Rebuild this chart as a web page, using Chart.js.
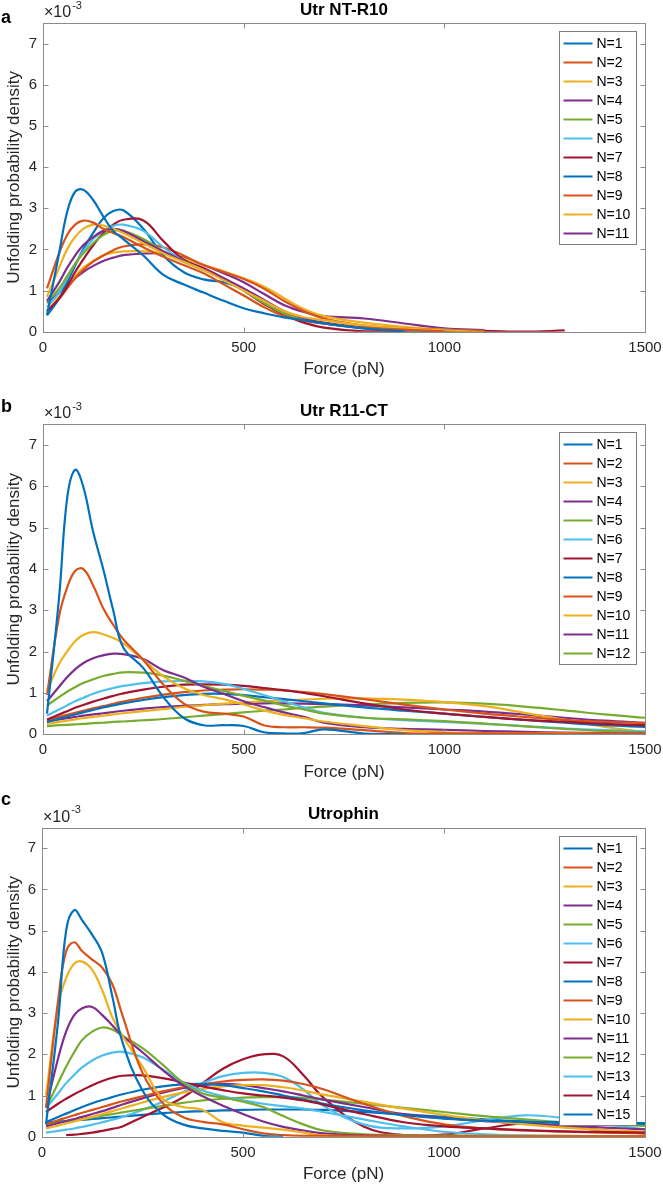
<!DOCTYPE html>
<html>
<head>
<meta charset="utf-8">
<title>Unfolding force distributions</title>
<script src="https://cdn.jsdelivr.net/npm/chart.js@4.4.1/dist/chart.umd.min.js"></script>
<style>
  html, body { margin: 0; padding: 0; background: #fff; }
  #wrap { position: relative; width: 663px; height: 1187px; }
  .panel { position: absolute; left: 0; width: 663px; }
  canvas { display: block; }
</style>
</head>
<body>
<div id="wrap">
  <div class="panel" style="top:0"><canvas id="chartA" width="663" height="388"></canvas></div>
  <div class="panel" style="top:388px"><canvas id="chartB" width="663" height="396"></canvas></div>
  <div class="panel" style="top:784px"><canvas id="chartC" width="663" height="403"></canvas></div>
</div>
<script>
// ─── Data (density in units of 1e-3) ─────────────────────────────────────────
const FORCE = [10, 40, 60, 80, 100, 125, 150, 175, 200, 250, 300, 350, 400, 450, 500,
               550, 600, 650, 700, 800, 900, 1000, 1100, 1200, 1300, 1400, 1500];

const TITLES = ["Utr NT-R10", "Utr R11-CT", "Utrophin"];
const LETTERS = ["a", "b", "c"];

const ntR10 = [
  [0.4, 1.9, 2.9, 3.4, 3.45, 3.2, 2.8, 2.45, 2.25, 1.85, 1.38, 1.15, 0.95, 0.75, 0.57, 0.45, 0.35, 0.28, 0.2, 0.08, 0.01, null, null, null, null, null, null],
  [1.05, 1.9, 2.35, 2.6, 2.7, 2.65, 2.5, 2.4, 2.3, 2.05, 1.82, 1.62, 1.42, 1.15, 0.88, 0.6, 0.38, 0.27, 0.2, 0.1, 0.05, 0.01, null, null, null, null, null],
  [0.85, 1.55, 2.0, 2.3, 2.5, 2.6, 2.58, 2.5, 2.4, 2.15, 1.9, 1.7, 1.5, 1.25, 1.0, 0.75, 0.5, 0.35, 0.28, 0.15, 0.08, 0.03, 0.0, null, null, null, null],
  [0.75, 1.2, 1.55, 1.85, 2.1, 2.3, 2.45, 2.5, 2.45, 2.2, 1.95, 1.72, 1.52, 1.3, 1.05, 0.78, 0.5, 0.33, 0.22, 0.1, 0.05, 0.02, null, null, null, null, null],
  [0.7, 1.05, 1.35, 1.65, 1.9, 2.15, 2.35, 2.45, 2.45, 2.25, 1.95, 1.7, 1.5, 1.28, 1.0, 0.7, 0.45, 0.3, 0.2, 0.1, 0.05, 0.02, null, null, null, null, null],
  [0.6, 0.95, 1.3, 1.65, 1.95, 2.25, 2.45, 2.57, 2.6, 2.45, 2.05, 1.72, 1.5, 1.28, 1.02, 0.72, 0.45, 0.3, 0.2, 0.1, 0.03, 0.0, null, null, null, null, null],
  [0.5, 0.8, 1.1, 1.45, 1.75, 2.1, 2.4, 2.6, 2.72, 2.7, 2.2, 1.75, 1.55, 1.3, 1.0, 0.68, 0.42, 0.22, 0.1, 0.01, 0.02, 0.02, 0.02, 0.0, 0.03, null, null],
  [0.4, 0.8, 1.2, 1.6, 2.0, 2.4, 2.75, 2.93, 2.95, 2.5, 1.85, 1.45, 1.27, 1.2, 1.02, 0.72, 0.45, 0.3, 0.2, 0.08, 0.02, 0.01, 0.0, null, null, null, null],
  [0.5, 0.8, 1.05, 1.3, 1.5, 1.7, 1.85, 1.98, 2.07, 2.12, 2.05, 1.85, 1.62, 1.45, 1.28, 1.05, 0.75, 0.5, 0.32, 0.15, 0.08, 0.04, 0.01, null, null, null, null],
  [0.5, 0.85, 1.1, 1.35, 1.55, 1.72, 1.85, 1.92, 1.95, 1.95, 1.9, 1.78, 1.62, 1.47, 1.3, 1.1, 0.82, 0.55, 0.38, 0.22, 0.12, 0.05, 0.02, null, null, null, null],
  [0.7, 0.95, 1.15, 1.3, 1.45, 1.6, 1.72, 1.8, 1.86, 1.9, 1.9, 1.8, 1.62, 1.42, 1.2, 0.92, 0.65, 0.48, 0.38, 0.32, 0.2, 0.08, 0.04, null, null, null, null],
];

const r11CT = [
  [0.5, 3.3, 5.7, 6.4, 6.0, 4.9, 4.0, 3.0, 2.1, 1.6, 0.9, 0.4, 0.22, 0.22, 0.2, 0.05, 0.02, 0.03, 0.12, 0.02, 0.0, null, null, null, null, null, null],
  [0.95, 2.85, 3.55, 3.95, 4.0, 3.6, 3.05, 2.65, 2.3, 1.8, 1.2, 0.75, 0.55, 0.5, 0.43, 0.22, 0.17, 0.17, 0.16, 0.1, 0.03, 0.02, 0.02, 0.02, 0.01, 0.01, 0.01],
  [1.05, 1.7, 2.0, 2.25, 2.4, 2.47, 2.42, 2.33, 2.2, 1.8, 1.4, 1.12, 0.95, 0.85, 0.72, 0.58, 0.47, 0.39, 0.31, 0.2, 0.1, 0.05, 0.03, 0.02, 0.02, 0.01, 0.01],
  [0.8, 1.15, 1.38, 1.57, 1.72, 1.84, 1.91, 1.95, 1.94, 1.82, 1.55, 1.38, 1.15, 0.98, 0.8, 0.66, 0.53, 0.42, 0.28, 0.17, 0.13, 0.11, 0.08, 0.06, 0.04, 0.03, 0.02],
  [0.7, 0.9, 1.03, 1.14, 1.24, 1.33, 1.41, 1.46, 1.5, 1.49, 1.42, 1.3, 1.17, 1.05, 0.93, 0.82, 0.7, 0.6, 0.5, 0.4, 0.36, 0.32, 0.26, 0.19, 0.13, 0.08, 0.05],
  [0.45, 0.6, 0.7, 0.8, 0.88, 0.98, 1.06, 1.12, 1.17, 1.24, 1.28, 1.29, 1.28, 1.22, 1.1, 0.95, 0.8, 0.65, 0.52, 0.4, 0.34, 0.3, 0.25, 0.2, 0.14, 0.1, 0.07],
  [0.35, 0.48, 0.56, 0.64, 0.71, 0.79, 0.86, 0.93, 0.99, 1.08, 1.15, 1.2, 1.21, 1.2, 1.17, 1.12, 1.07, 1.0, 0.92, 0.75, 0.6, 0.5, 0.42, 0.35, 0.3, 0.25, 0.22],
  [0.3, 0.38, 0.43, 0.48, 0.53, 0.59, 0.65, 0.7, 0.75, 0.83, 0.9, 0.95, 0.98, 0.98, 0.95, 0.9, 0.85, 0.8, 0.75, 0.65, 0.57, 0.5, 0.42, 0.35, 0.28, 0.22, 0.18],
  [0.35, 0.42, 0.47, 0.52, 0.57, 0.63, 0.68, 0.74, 0.79, 0.88, 0.96, 1.02, 1.06, 1.08, 1.09, 1.08, 1.06, 1.02, 0.97, 0.85, 0.72, 0.6, 0.5, 0.42, 0.35, 0.3, 0.27],
  [0.25, 0.3, 0.33, 0.36, 0.39, 0.42, 0.45, 0.48, 0.51, 0.56, 0.61, 0.66, 0.7, 0.74, 0.77, 0.8, 0.82, 0.84, 0.86, 0.87, 0.84, 0.78, 0.68, 0.52, 0.35, 0.18, 0.05],
  [0.3, 0.36, 0.39, 0.42, 0.45, 0.48, 0.51, 0.54, 0.57, 0.62, 0.66, 0.69, 0.71, 0.73, 0.74, 0.75, 0.75, 0.74, 0.73, 0.7, 0.65, 0.6, 0.55, 0.48, 0.4, 0.33, 0.28],
  [0.2, 0.22, 0.23, 0.24, 0.25, 0.27, 0.28, 0.3, 0.31, 0.34, 0.37, 0.41, 0.45, 0.49, 0.53, 0.57, 0.6, 0.64, 0.67, 0.72, 0.76, 0.77, 0.74, 0.67, 0.58, 0.48, 0.4],
];

const utrophin = [
  [0.3, 2.8, 5.0, 5.5, 5.25, 4.9, 4.45, 3.4, 2.3, 1.12, 0.55, 0.3, 0.2, 0.14, 0.1, 0.02, 0.0, null, null, null, null, null, null, null, null, null, null],
  [0.7, 3.3, 4.5, 4.72, 4.5, 4.3, 4.1, 3.7, 2.95, 1.55, 0.82, 0.48, 0.36, 0.3, 0.18, 0.08, 0.04, 0.02, 0.02, 0.02, 0.01, 0.01, 0.01, 0.01, 0.01, 0.01, 0.01],
  [1.0, 3.2, 3.85, 4.2, 4.25, 4.05, 3.55, 2.9, 2.45, 1.7, 0.92, 0.72, 0.65, 0.35, 0.27, 0.22, 0.17, 0.1, 0.03, 0.01, 0.01, 0.01, 0.01, 0.01, 0.01, 0.01, 0.01],
  [0.7, 1.9, 2.55, 2.95, 3.12, 3.15, 2.95, 2.7, 2.45, 2.05, 1.62, 1.25, 0.98, 0.75, 0.55, 0.37, 0.24, 0.15, 0.08, 0.03, 0.02, 0.02, 0.01, 0.01, 0.01, 0.01, 0.01],
  [0.7, 1.3, 1.7, 2.05, 2.35, 2.55, 2.65, 2.6, 2.45, 2.15, 1.75, 1.32, 1.05, 0.95, 0.85, 0.72, 0.5, 0.3, 0.15, 0.06, 0.04, 0.03, 0.02, 0.02, 0.02, 0.01, 0.01],
  [0.7, 1.05, 1.3, 1.5, 1.68, 1.85, 1.97, 2.04, 2.06, 1.93, 1.63, 1.32, 1.12, 0.98, 0.88, 0.8, 0.74, 0.68, 0.6, 0.42, 0.25, 0.12, 0.06, 0.03, 0.02, 0.01, 0.01],
  [0.6, 0.8, 0.92, 1.03, 1.13, 1.25, 1.35, 1.43, 1.48, 1.49, 1.42, 1.32, 1.22, 1.13, 1.05, 1.0, 0.95, 0.88, 0.78, 0.55, 0.35, 0.25, 0.2, 0.16, 0.13, 0.11, 0.1],
  [0.35, 0.48, 0.56, 0.64, 0.72, 0.81, 0.89, 0.96, 1.03, 1.14, 1.22, 1.27, 1.28, 1.25, 1.18, 1.1, 1.0, 0.9, 0.8, 0.64, 0.52, 0.44, 0.39, 0.36, 0.35, 0.34, 0.33],
  [0.3, 0.4, 0.46, 0.52, 0.58, 0.65, 0.72, 0.79, 0.86, 0.98, 1.1, 1.2, 1.28, 1.34, 1.38, 1.39, 1.36, 1.28, 1.15, 0.8, 0.5, 0.3, 0.2, 0.15, 0.12, 0.1, 0.08],
  [0.2, 0.27, 0.32, 0.37, 0.42, 0.48, 0.55, 0.62, 0.69, 0.83, 0.96, 1.07, 1.16, 1.22, 1.25, 1.25, 1.2, 1.12, 1.02, 0.85, 0.68, 0.53, 0.4, 0.3, 0.22, 0.16, 0.12],
  [0.25, 0.33, 0.38, 0.43, 0.48, 0.55, 0.62, 0.7, 0.78, 0.93, 1.07, 1.18, 1.25, 1.28, 1.25, 1.18, 1.1, 1.0, 0.9, 0.72, 0.55, 0.45, 0.38, 0.32, 0.27, 0.22, 0.18],
  [0.3, 0.34, 0.37, 0.4, 0.43, 0.47, 0.51, 0.55, 0.59, 0.67, 0.75, 0.82, 0.88, 0.92, 0.95, 0.96, 0.96, 0.94, 0.9, 0.8, 0.7, 0.6, 0.5, 0.42, 0.35, 0.3, 0.26],
  [0.1, 0.14, 0.17, 0.2, 0.24, 0.29, 0.35, 0.41, 0.48, 0.65, 0.85, 1.08, 1.3, 1.47, 1.55, 1.55, 1.45, 1.15, 0.75, 0.3, 0.2, 0.25, 0.4, 0.52, 0.45, 0.3, 0.18],
  [null, null, 0.04, 0.05, 0.07, 0.1, 0.14, 0.19, 0.25, 0.48, 0.7, 0.95, 1.3, 1.65, 1.88, 2.0, 1.95, 1.5, 0.95, 0.25, 0.04, 0.05, 0.2, 0.32, 0.25, 0.15, 0.08],
  [0.35, 0.37, 0.38, 0.4, 0.41, 0.43, 0.45, 0.47, 0.49, 0.53, 0.57, 0.6, 0.62, 0.64, 0.65, 0.66, 0.66, 0.66, 0.65, 0.6, 0.54, 0.48, 0.42, 0.37, 0.33, 0.31, 0.3],
];

// MATLAB default line order
const COLORS = ["#0072BD", "#D95319", "#EDB120", "#7E2F8E", "#77AC30", "#4DBEEE", "#A2142F"];
const FONT = "'Liberation Sans', Arial, Helvetica, sans-serif";
const AXIS_GRAY = "#8c8c8c";
const TEXT = "#262626";

// ─── Frame / labels / legend plugin ───────────────────────────────────────────
const frame = {
  id: "frame",
  afterDraw(chart, args, o) {
    const ctx = chart.ctx, a = chart.chartArea;
    const xs = chart.scales.x, ys = chart.scales.y;
    const L = Math.round(a.left) + 0.5, R = Math.round(a.right) + 0.5;
    const T = Math.round(a.top) + 0.5, B = Math.round(a.bottom) + 0.5;
    ctx.save();

    // axes box with inward ticks (top/bottom, left/right)
    ctx.strokeStyle = AXIS_GRAY;
    ctx.lineWidth = 1;
    ctx.strokeRect(L, T, R - L, B - T);
    ctx.beginPath();
    xs.ticks.forEach(t => {
      const x = Math.round(xs.getPixelForValue(t.value)) + 0.5;
      ctx.moveTo(x, B); ctx.lineTo(x, B - 5);
      ctx.moveTo(x, T); ctx.lineTo(x, T + 5);
    });
    ys.ticks.forEach(t => {
      const y = Math.round(ys.getPixelForValue(t.value)) + 0.5;
      ctx.moveTo(L, y); ctx.lineTo(L + 5, y);
      ctx.moveTo(R, y); ctx.lineTo(R - 5, y);
    });
    ctx.stroke();

    // title
    ctx.fillStyle = "#000";
    ctx.textAlign = "center";
    ctx.textBaseline = "middle";
    ctx.font = `bold 17px ${FONT}`;
    ctx.fillText(o.title, (a.left + a.right) / 2, a.top - 13);

    // panel letter
    ctx.textAlign = "left";
    ctx.textBaseline = "alphabetic";
    ctx.font = `bold 18px ${FONT}`;
    ctx.fillText(o.letter, 1, o.letterY);

    // exponent
    ctx.fillStyle = TEXT;
    ctx.textBaseline = "middle";
    ctx.font = `16px ${FONT}`;
    ctx.fillText("\u00d710", a.left + 1, a.top - 10.5);
    const w = ctx.measureText("\u00d710").width;
    ctx.font = `11px ${FONT}`;
    ctx.fillText("-3", a.left + 2 + w, a.top - 17.5);

    // axis titles
    ctx.font = `17px ${FONT}`;
    ctx.textAlign = "center";
    ctx.fillText("Force (pN)", (a.left + a.right) / 2, a.bottom + 38);
    ctx.save();
    ctx.translate(14, (a.top + a.bottom) / 2);
    ctx.rotate(-Math.PI / 2);
    ctx.fillText("Unfolding probability density", 0, 0);
    ctx.restore();

    // legend box inside the axes, top right
    const sets = chart.data.datasets;
    const lw = 77, lx = Math.round(a.right - 9 - lw) + 0.5, ly = Math.round(a.top + 8) + 0.5;
    const lh = sets.length * 19 + 4;
    ctx.fillStyle = "#fff";
    ctx.fillRect(lx, ly, lw, lh);
    ctx.strokeStyle = "#7f7f7f";
    ctx.lineWidth = 1;
    ctx.strokeRect(lx, ly, lw, lh);
    ctx.font = `14px ${FONT}`;
    ctx.textAlign = "left";
    ctx.textBaseline = "middle";
    sets.forEach((ds, i) => {
      const y = ly + 12 + i * 19;
      ctx.strokeStyle = ds.borderColor;
      ctx.lineWidth = 2;
      ctx.beginPath();
      ctx.moveTo(lx + 4, y);
      ctx.lineTo(lx + 33, y);
      ctx.stroke();
      ctx.fillStyle = "#000";
      ctx.fillText(ds.label, lx + 37, y + 0.5);
    });
    ctx.restore();
  }
};

// ─── Build one panel ──────────────────────────────────────────────────────────
function drawPanel(id, series, idx, box) {
  const canvas = document.getElementById(id);
  const H = canvas.height;
  const datasets = series.map((vals, i) => ({
    label: "N=" + (i + 1),
    data: FORCE.map((x, j) => ({ x, y: vals[j] })),
    borderColor: COLORS[i % COLORS.length],
    borderWidth: 2.2,
    pointRadius: 0,
    fill: false,
    spanGaps: false,
    tension: 0.4,
  }));

  return new Chart(canvas, {
    type: "line",
    data: { datasets },
    plugins: [frame],
    options: {
      responsive: false,
      animation: false,
      layout: { padding: { top: box.top, left: 0, right: 18, bottom: H - box.bottom - 40 } },
      plugins: {
        legend: { display: false },
        tooltip: { enabled: false },
        frame: { title: TITLES[idx], letter: LETTERS[idx], letterY: box.letterY },
      },
      scales: {
        x: {
          type: "linear", min: 0, max: 1500,
          border: { display: false },
          grid: { display: false, drawTicks: false },
          ticks: {
            stepSize: 500, padding: 7, maxRotation: 0, autoSkip: false,
            color: TEXT, font: { family: FONT, size: 15 },
            callback: v => String(v),
          },
          // fixed axis height, and no extra side padding for edge labels
          afterFit: s => { s.height = 40; s.paddingLeft = 0; s.paddingRight = 0; },
        },
        y: {
          type: "linear", min: 0, max: 7.5,
          border: { display: false },
          grid: { display: false, drawTicks: false },
          ticks: { stepSize: 1, includeBounds: false, padding: 6, color: TEXT, font: { family: FONT, size: 15 } },
          afterFit: s => { s.width = box.left; s.paddingTop = 0; s.paddingBottom = 0; },
        },
      },
    },
  });
}

drawPanel("chartA", ntR10, 0, { top: 23, bottom: 331.7, left: 43, letterY: 23 });
drawPanel("chartB", r11CT, 1, { top: 36.3, bottom: 346.3, left: 43, letterY: 24 });
drawPanel("chartC", utrophin, 2, { top: 43.7, bottom: 352.7, left: 42, letterY: 21 });
</script>
</body>
</html>
